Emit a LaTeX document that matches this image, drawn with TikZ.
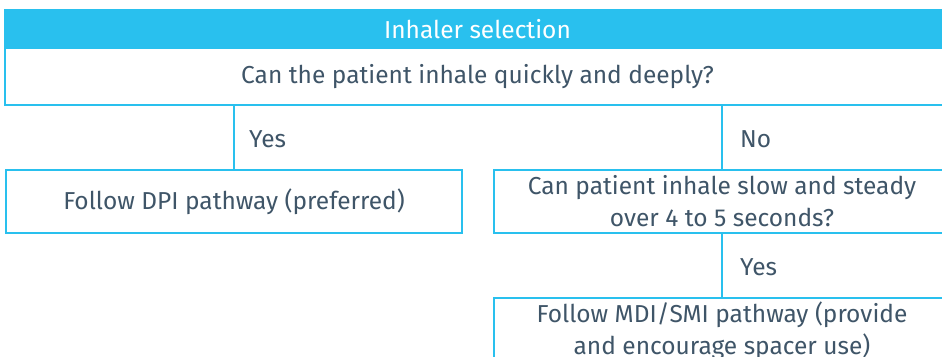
\documentclass[tikz,border=0pt]{standalone}
\usepackage{fontspec}
\setmainfont{Fira Sans}
\usetikzlibrary{positioning}
\definecolor{inhblue}{HTML}{29C0EE}
\definecolor{inhtext}{HTML}{3F5568}
\tikzset{
  box/.style={draw=inhblue, line width=2.5pt, fill=white, text=inhtext,
    align=center, inner sep=0pt, font=\fontsize{24.5}{32}\selectfont},
  hdrbox/.style={box, fill=inhblue, text=white},
  lbl/.style={text=inhtext, anchor=west, inner sep=0pt,
    font=\fontsize{24.5}{32}\selectfont},
  link/.style={draw=inhblue, line width=2.5pt}
}
\begin{document}
\begin{tikzpicture}[x=1pt, y=-1pt]
    \clip (0, 0) rectangle (942, 356);
    \node (hdr) [hdrbox, minimum width=945, minimum height=38] at (477.5, 29) {Inhaler selection};
    \node (ask) [box, minimum width=945, minimum height=57] at (477.5, 76.5) {Can the patient inhale quickly and deeply?};
    \node (dpi) [box, minimum width=456, minimum height=63] at (234, 201.5) {Follow DPI pathway (preferred)};
    \node (slow) [box, minimum width=456, minimum height=63] at (722, 201.5) {Can patient inhale slow and steady\\over 4 to 5 seconds?};
    \node (mdi) [box, minimum width=456, minimum height=66] at (722, 331) {Follow MDI/SMI pathway (provide\\and encourage spacer use)};
    \draw[link] (ask.south -| dpi.north) -- (dpi.north);
    \draw[link] (ask.south -| slow.north) -- (slow.north);
    \draw[link] (slow.south) -- (mdi.north);
    \node (yesdpi) [lbl] at (249, 139) {Yes};
    \node (noslow) [lbl] at (740, 139) {No};
    \node (yesmdi) [lbl] at (740, 267) {Yes};
  \end{tikzpicture}
\end{document}
